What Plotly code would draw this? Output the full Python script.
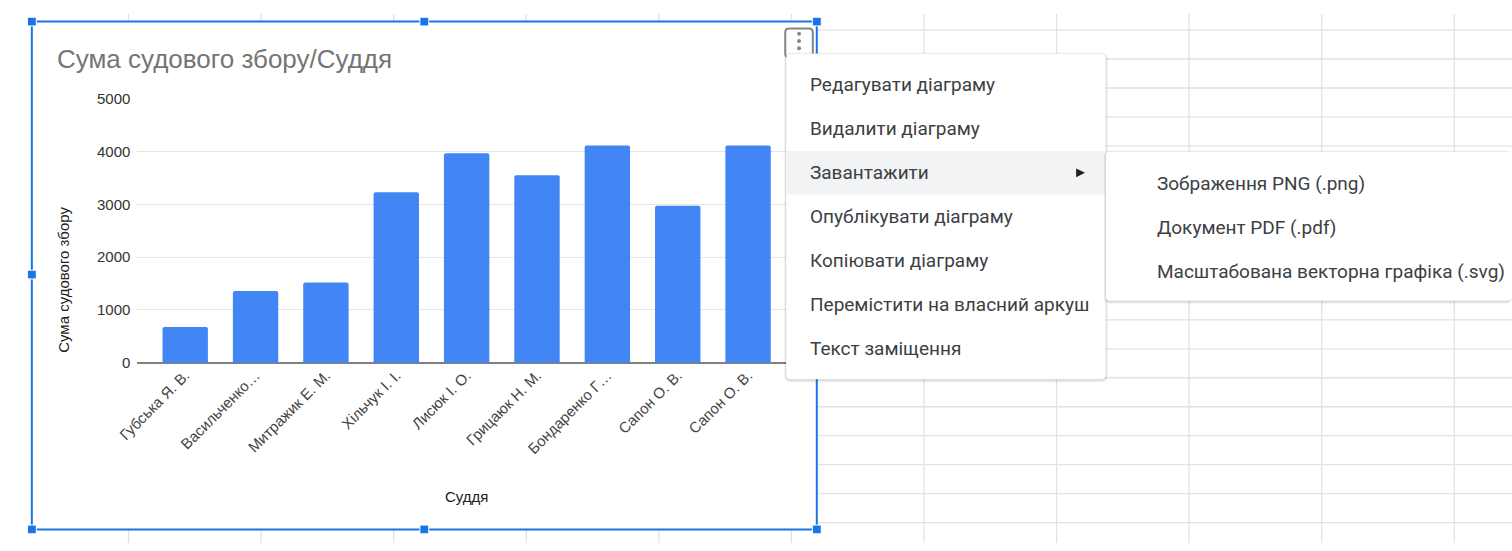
import plotly.graph_objects as go

W, H = 1512, 551

# ---------------- data ----------------
judges = ["Губська Я. В.", "Васильченко…", "Митражик Е. М.", "Хільчук І. І.",
          "Лисюк І. О.", "Грицаюк Н. М.", "Бондаренко Г…", "Сапон О. В.", "Сапон О. В."]
fees = [675, 1360, 1520, 3230, 3965, 3550, 4115, 2970, 4115]
y_ticks = [0, 1000, 2000, 3000, 4000, 5000]

chart_title = "Сума судового збору/Суддя"
x_title = "Суддя"
y_title = "Сума судового збору"

menu_items = ["Редагувати діаграму", "Видалити діаграму", "Завантажити",
              "Опублікувати діаграму", "Копіювати діаграму",
              "Перемістити на власний аркуш", "Текст заміщення"]
submenu_items = ["Зображення PNG (.png)", "Документ PDF (.pdf)",
                 "Масштабована векторна графіка (.svg)"]


def X(px):
    return min(max(px, 0), W) / W


def Y(py):
    return 1 - min(max(py, 0), H) / H


positions = list(range(len(judges)))

fig = go.Figure()
fig.add_trace(go.Bar(
    x=positions, y=fees, width=0.645,
    marker=dict(color="#4285f4", line=dict(width=0), cornerradius=2),
    hoverinfo="skip",
))

shapes = []
annotations = []

# spreadsheet grid
for i in range(11):
    xv = 109 + 134.45 * i
    shapes.append(dict(type="line", xref="paper", yref="paper", layer="below",
                       x0=X(xv), x1=X(xv), y0=Y(5), y1=Y(551),
                       line=dict(color="#e2e2e2", width=1.3)))
for j in range(18):
    yv = 21.7 + 29.9 * j
    shapes.append(dict(type="line", xref="paper", yref="paper", layer="below",
                       x0=X(11), x1=X(1512), y0=Y(yv), y1=Y(yv),
                       line=dict(color="#e2e2e2", width=1.3)))

# chart background
shapes.append(dict(type="rect", xref="paper", yref="paper", layer="below",
                   x0=X(11), x1=X(807), y0=Y(13), y1=Y(537),
                   fillcolor="white", line=dict(width=0)))

# chart frame (selected)
shapes.append(dict(type="rect", xref="paper", yref="paper", layer="above",
                   x0=X(11), x1=X(807), y0=Y(13), y1=Y(537),
                   fillcolor="rgba(0,0,0,0)", line=dict(color="#1a73e8", width=2)))
for hx, hy in [(11, 13), (409, 13), (807, 13), (11, 274), (11, 537), (409, 537), (807, 537)]:
    shapes.append(dict(type="rect", xref="paper", yref="paper", layer="above",
                       x0=X(hx - 4.5), x1=X(hx + 4.5), y0=Y(hy - 4.5), y1=Y(hy + 4.5),
                       fillcolor="#1a73e8", line=dict(color="white", width=1)))


def rrect(x0, y0, x1, y1, r):
    rx, ry = r / W, r / H
    a0, a1 = X(x0), X(x1)
    b0, b1 = Y(y0), Y(y1)
    return (f"M {a0+rx},{b0} L {a1-rx},{b0} Q {a1},{b0} {a1},{b0-ry} "
            f"L {a1},{b1+ry} Q {a1},{b1} {a1-rx},{b1} L {a0+rx},{b1} "
            f"Q {a0},{b1} {a0},{b1+ry} L {a0},{b0-ry} Q {a0},{b0} {a0+rx},{b0} Z")


# kebab button
shapes.append(dict(type="path", xref="paper", yref="paper", layer="above",
                   path=rrect(775, 20, 803, 50, 4), fillcolor="white",
                   line=dict(color="#80868b", width=2)))
for dy in [25.5, 33, 40.5]:
    shapes.append(dict(type="circle", xref="paper", yref="paper", layer="above",
                       x0=X(787), x1=X(791), y0=Y(dy - 2), y1=Y(dy + 2),
                       fillcolor="#80868b", line=dict(width=0)))


def menu_box(x0, y0, x1, y1):
    for k, a in [(4, 0.025), (3, 0.035), (2, 0.05), (1, 0.07)]:
        shapes.append(dict(type="path", xref="paper", yref="paper", layer="above",
                           path=rrect(x0 - k * 0.6, y0 - k * 0.3, x1 + k * 0.6, y1 + k, 4 + k),
                           fillcolor=f"rgba(0,0,0,{a})", line=dict(width=0)))
    shapes.append(dict(type="path", xref="paper", yref="paper", layer="above",
                       path=rrect(x0, y0, x1, y1, 4), fillcolor="white",
                       line=dict(width=0)))


menu_box(776, 46, 1100, 382)
shapes.append(dict(type="rect", xref="paper", yref="paper", layer="above",
                   x0=X(776.5), x1=X(1099.5), y0=Y(146.5), y1=Y(191.5),
                   fillcolor="#f1f3f4", line=dict(width=0)))
shapes.append(dict(type="path", xref="paper", yref="paper", layer="above",
                   path=f"M {X(1070)},{Y(164.5)} L {X(1079)},{Y(169)} L {X(1070)},{Y(173.5)} Z",
                   fillcolor="#202124", line=dict(width=0)))
menu_box(1100, 147, 1520, 301)

menu_font = dict(family="Roboto, Arial, sans-serif", size=19, color="#3c4043")
for i, t in enumerate(menu_items):
    annotations.append(dict(text=t, xref="paper", yref="paper", x=X(798), y=Y(78 + 45.3 * i),
                            xanchor="left", yanchor="middle", showarrow=False, font=menu_font))
for i, t in enumerate(submenu_items):
    annotations.append(dict(text=t, xref="paper", yref="paper", x=X(1150), y=Y(180 + 45.3 * i),
                            xanchor="left", yanchor="middle", showarrow=False, font=menu_font))

annotations.append(dict(text=chart_title, xref="paper", yref="paper", x=X(34), y=Y(52),
                        xanchor="left", yanchor="middle", showarrow=False,
                        font=dict(family="Liberation Sans, Arial, sans-serif", size=26, color="#757575")))
annotations.append(dict(text=x_title, xref="paper", yref="paper", x=X(452), y=Y(503),
                        xanchor="center", yanchor="middle", showarrow=False,
                        font=dict(family="Liberation Sans, Arial, sans-serif", size=15, color="#222222")))
annotations.append(dict(text=y_title, xref="paper", yref="paper", x=X(43), y=Y(279),
                        xanchor="center", yanchor="middle", showarrow=False, textangle=-90,
                        font=dict(family="Liberation Sans, Arial, sans-serif", size=15, color="#222222")))

fig.update_layout(
    width=W, height=H,
    margin=dict(l=0, r=0, t=0, b=0),
    paper_bgcolor="white",
    plot_bgcolor="white",
    showlegend=False,
    bargap=0.355,
    shapes=shapes,
    annotations=annotations,
    xaxis=dict(domain=[X(118), X(776)], range=[-0.68, 8.542],
               tickmode="array", tickvals=positions, ticktext=judges,
               tickangle=-45, showgrid=False, zeroline=False, showline=False,
               ticks="", fixedrange=True,
               tickfont=dict(family="Liberation Sans, Arial, sans-serif", size=15, color="#444444")),
    yaxis=dict(domain=[Y(365), Y(92.5)], range=[0, 5000],
               tickmode="array", tickvals=y_ticks,
               showgrid=True, gridcolor="#e6e6e6", gridwidth=1.3,
               zeroline=True, zerolinecolor="#808080", zerolinewidth=1.5,
               showline=False, ticks="", fixedrange=True, ticklabelstandoff=6,
               tickfont=dict(family="Liberation Sans, Arial, sans-serif", size=15, color="#333333")),
)

fig.write_html("out.html",
               post_script="document.body.style.margin='0';")
